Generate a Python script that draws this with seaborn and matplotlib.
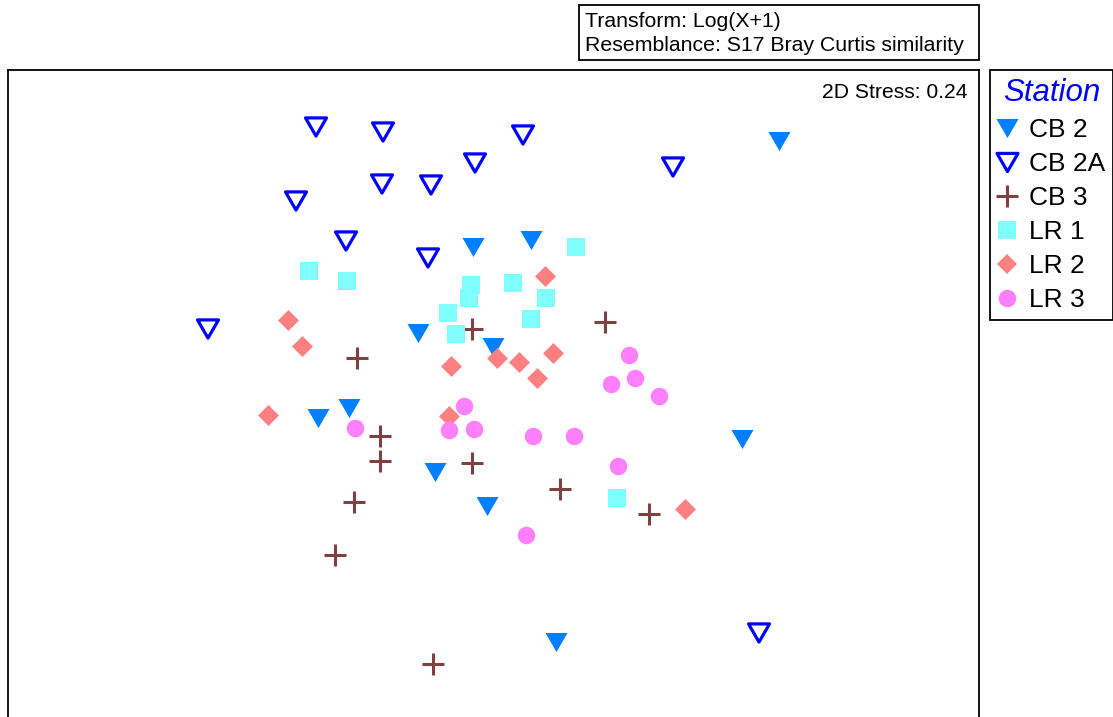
import numpy as np
import pandas as pd
import matplotlib
matplotlib.use("Agg")
import matplotlib.pyplot as plt
from matplotlib.lines import Line2D
from matplotlib.patches import Rectangle
from matplotlib.path import Path
import seaborn as sns

# nMDS ordination coordinates per sample, grouped by station
stations = ["CB 2", "CB 2A", "CB 3", "LR 1", "LR 2", "LR 3"]

cb2_x = [2.86, -0.20, 0.38, -0.75, 0.00, -1.75, -1.44, -0.58, -0.06, 2.49, 0.63]
cb2_y = [2.49, 1.43, 1.50, 0.57, 0.43, -0.28, -0.18, -0.82, -1.16, -0.49, -2.52]

cb2a_x = [-1.77, -1.10, 0.30, -0.18, 1.80, -1.11, -0.62, -1.97, -1.47, -0.65, -2.85, 2.66]
cb2a_y = [2.63, 2.58, 2.55, 2.27, 2.23, 2.06, 2.05, 1.89, 1.49, 1.32, 0.61, -2.43]

cb3_x = [-0.21, 1.12, -1.36, -1.13, -1.13, -0.21, -1.39, 0.67, 1.56, -1.58, -0.60]
cb3_y = [0.61, 0.68, 0.32, -0.46, -0.71, -0.73, -1.12, -0.99, -1.24, -1.65, -2.74]

lr1_x = [0.83, -1.84, -1.46, -0.22, -0.24, 0.20, 0.53, -0.45, -0.37, 0.38, 1.24]
lr1_y = [1.43, 1.19, 1.09, 1.05, 0.92, 1.07, 0.92, 0.77, 0.56, 0.71, -1.08]

lr2_x = [0.52, -2.05, -1.91, -0.42, 0.04, 0.26, 0.60, 0.44, -2.25, -0.44, 1.92]
lr2_y = [1.14, 0.70, 0.44, 0.24, 0.32, 0.28, 0.37, 0.12, -0.25, -0.26, -1.19]

lr3_x = [1.36, 1.42, 1.18, 1.66, -0.29, -1.38, -0.44, -0.19, 0.40, 0.81, 1.25, 0.33]
lr3_y = [0.35, 0.12, 0.06, -0.06, -0.16, -0.38, -0.40, -0.39, -0.46, -0.46, -0.76, -1.45]

stress = 0.24

xs = [cb2_x, cb2a_x, cb3_x, lr1_x, lr2_x, lr3_x]
ys = [cb2_y, cb2a_y, cb3_y, lr1_y, lr2_y, lr3_y]
df = pd.concat(
    [pd.DataFrame({"MDS1": x, "MDS2": y, "Station": s}) for s, x, y in zip(stations, xs, ys)],
    ignore_index=True,
)

# closed, slightly flattened downward triangle
tri_down = Path([(-1.0, 0.866), (1.0, 0.866), (0.0, -0.866), (-1.0, 0.866)],
                [Path.MOVETO, Path.LINETO, Path.LINETO, Path.CLOSEPOLY])

styles = {
    "CB 2": dict(marker=tri_down, s=251, color="#0080FF", linewidth=0),
    "CB 2A": dict(marker=tri_down, s=228, color="#0000FF", facecolor="none",
                  edgecolor="#0000FF", linewidth=2.3),
    "CB 3": dict(marker="+", s=250, color="#804040", linewidth=2.2),
    "LR 1": dict(marker="s", s=169, color="#80FFFF", linewidth=0),
    "LR 2": dict(marker="D", s=114, color="#FF8080", linewidth=0),
    "LR 3": dict(marker="o", s=159, color="#FF80FF", linewidth=0),
}

sns.set_style("white")
plt.rcParams["font.family"] = ["Liberation Sans", "DejaVu Sans"]
plt.rcParams["text.color"] = "black"

W, H = 1113, 717
fig = plt.figure(figsize=(W / 100, H / 100), dpi=100)
ax = fig.add_axes([8 / W, 1 - 727 / H, 971 / W, 657 / H])

for i, st in enumerate(stations):
    sub = df[df["Station"] == st]
    sns.scatterplot(data=sub, x="MDS1", y="MDS2", ax=ax, legend=False,
                    zorder=3 + i, **styles[st])

ax.set_xlim(-4.85, 4.86)
ax.set_ylim(-3.37, 3.20)
ax.set_xticks([])
ax.set_yticks([])
ax.set_xlabel("")
ax.set_ylabel("")
for sp in ax.spines.values():
    sp.set_color("black")
    sp.set_linewidth(1.3)

fig.text(968 / W, 1 - 98 / H, f"2D Stress: {stress:.2f}", ha="right", va="baseline",
         fontsize=15.2, color="black")

# transform / resemblance info box
fig.patches.append(Rectangle((579 / W, 1 - 60 / H), 400 / W, 55 / H, transform=fig.transFigure,
                             fill=False, edgecolor="black", linewidth=1.3))
fig.text(585 / W, 1 - 27 / H, "Transform: Log(X+1)", ha="left", va="baseline",
         fontsize=15.3, color="black")
fig.text(585 / W, 1 - 51 / H, "Resemblance: S17 Bray Curtis similarity", ha="left",
         va="baseline", fontsize=15.3, color="black")

# legend
handles = []
for st in stations:
    stl = styles[st]
    ms = np.sqrt(stl["s"])
    if st == "CB 2A":
        h = Line2D([], [], ls="none", marker=tri_down, markersize=ms, markerfacecolor="none",
                   markeredgecolor="#0000FF", markeredgewidth=2.3)
    elif st == "CB 3":
        h = Line2D([], [], ls="none", marker="+", markersize=ms, color="#804040",
                   markeredgewidth=2.2)
    else:
        h = Line2D([], [], ls="none", marker=stl["marker"], markersize=ms,
                   markerfacecolor=stl["color"], markeredgewidth=0)
    handles.append(h)

leg = fig.legend(handles, stations, loc="upper left", bbox_to_anchor=(990 / W, 1 - 70 / H),
                 bbox_transform=fig.transFigure, borderaxespad=0, fontsize=19,
                 title="Station", title_fontproperties={"size": 22.5, "style": "italic"},
                 frameon=True, fancybox=False, edgecolor="black", framealpha=1,
                 borderpad=0.3, handlelength=0.66, handletextpad=0.5, labelspacing=0.38)
leg.get_title().set_color("#0000FF")
leg.get_frame().set_linewidth(1.3)
for t in leg.get_texts():
    t.set_color("black")

fig.savefig("out.png", dpi=100, facecolor="white")
